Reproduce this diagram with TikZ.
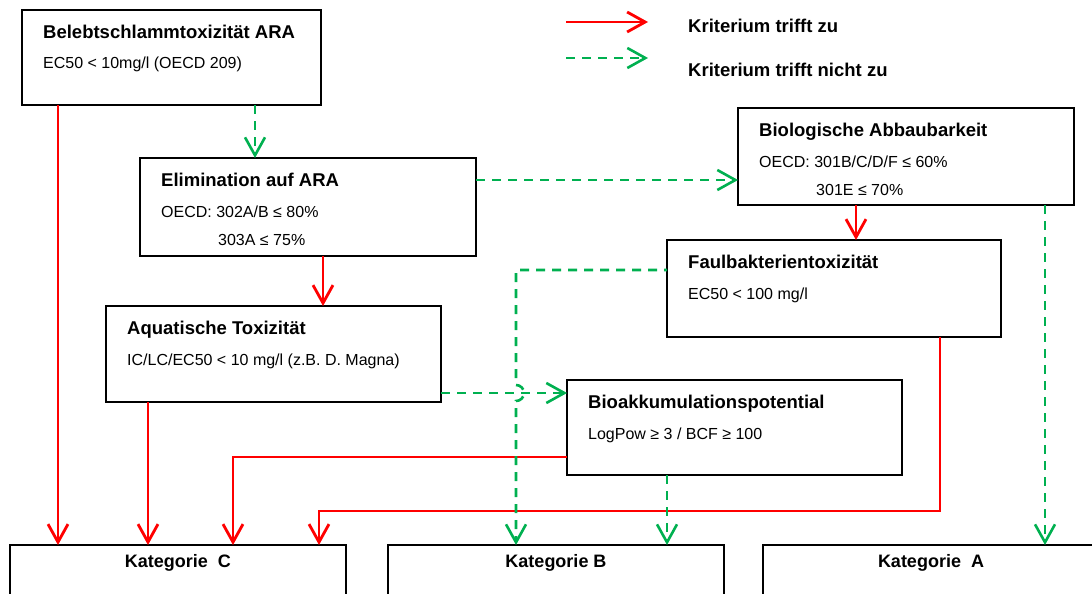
\documentclass[tikz,border=0pt]{standalone}
\usepackage{fontspec}
\setmainfont{Liberation Sans}
\usetikzlibrary{arrows.meta}
\definecolor{yesred}{RGB}{255,0,0}
\definecolor{nogreen}{RGB}{0,176,80}

\begin{document}
\begin{tikzpicture}[x=1pt,y=-1pt,
  box/.style={draw,line width=2pt,inner sep=0pt,outer sep=0pt,anchor=north west},
  title/.style={anchor=base west,inner sep=0pt,font=\fontsize{18.5}{20}\selectfont\bfseries},
  txt/.style={anchor=base west,inner sep=0pt,font=\fontsize{16}{18}\selectfont},
  cat/.style={anchor=base,inner sep=0pt,font=\fontsize{18}{20}\selectfont\bfseries},
  yes/.style={yesred,line width=2.8pt,-{Straight Barb[length=18pt,width=20pt]}},
  no/.style={nogreen,line width=2.6pt,dash pattern=on 9pt off 7pt,-{Straight Barb[length=18pt,width=20pt]}}]

\clip (0,0) rectangle (1092,594);

% legend
\coordinate (l1s) at (566,22);
\coordinate (l1e) at (648,22);
\coordinate (l2s) at (566,58);
\coordinate (l2e) at (648,58);
\draw [yes] (l1s) -- (l1e);
\draw [no] (l2s) -- (l2e);
\node [title] (leg1) at (688,33) {Kriterium trifft zu};
\node [title] (leg2) at (688,77) {Kriterium trifft nicht zu};

% criteria boxes
\node [box, minimum width=299pt, minimum height=95pt] (bel) at (22,10) {};
\node [title] (belT) at ([xshift=21pt,yshift=-28.5pt]bel.north west) {Belebtschlammtoxizität ARA};
\node [txt] (belA) at ([xshift=21pt,yshift=-59pt]bel.north west) {EC50 < 10mg/l (OECD 209)};

\node [box, minimum width=336pt, minimum height=98pt] (elim) at (140,158) {};
\node [title] (elimT) at ([xshift=21pt,yshift=-28.5pt]elim.north west) {Elimination auf ARA};
\node [txt] (elimA) at ([xshift=21pt,yshift=-59pt]elim.north west) {OECD: 302A/B ≤ 80\%};
\node [txt] (elimB) at ([xshift=78pt,yshift=-87pt]elim.north west) {303A ≤ 75\%};

\node [box, minimum width=336pt, minimum height=97pt] (bio) at (738,108) {};
\node [title] (bioT) at ([xshift=21pt,yshift=-28.5pt]bio.north west) {Biologische Abbaubarkeit};
\node [txt] (bioA) at ([xshift=21pt,yshift=-59pt]bio.north west) {OECD: 301B/C/D/F ≤ 60\%};
\node [txt] (bioB) at ([xshift=78pt,yshift=-87pt]bio.north west) {301E ≤ 70\%};

\node [box, minimum width=334pt, minimum height=97pt] (faul) at (667,240) {};
\node [title] (faulT) at ([xshift=21pt,yshift=-28.5pt]faul.north west) {Faulbakterientoxizität};
\node [txt] (faulA) at ([xshift=21pt,yshift=-59pt]faul.north west) {EC50 < 100 mg/l};

\node [box, minimum width=335pt, minimum height=96pt] (aqua) at (106,306) {};
\node [title] (aquaT) at ([xshift=21pt,yshift=-28.5pt]aqua.north west) {Aquatische Toxizität};
\node [txt] (aquaA) at ([xshift=21pt,yshift=-59pt]aqua.north west) {IC/LC/EC50 < 10 mg/l (z.B. D. Magna)};

\node [box, minimum width=335pt, minimum height=95pt] (bioakk) at (567,380) {};
\node [title] (bioakkT) at ([xshift=21pt,yshift=-28.5pt]bioakk.north west) {Bioakkumulationspotential};
\node [txt] (bioakkA) at ([xshift=21pt,yshift=-59pt]bioakk.north west) {LogPow ≥ 3 / BCF ≥ 100};

% categories
\node [box, minimum width=336pt, minimum height=100pt] (katC) at (10,545) {};
\node [cat] (katCT) at ([yshift=-22.7pt]katC.north) {Kategorie~~C};
\node [box, minimum width=336pt, minimum height=100pt] (katB) at (388,545) {};
\node [cat] (katBT) at ([yshift=-22.7pt]katB.north) {Kategorie B};
\node [box, minimum width=336pt, minimum height=100pt] (katA) at (763,545) {};
\node [cat] (katAT) at ([yshift=-22.7pt]katA.north) {Kategorie~~A};

% connector ends
\coordinate (e1) at ([yshift=-22pt]elim.north east);
\coordinate (g1) at ([xshift=233pt]bel.south west);
\coordinate (b1) at ([xshift=118pt]bio.south west);
\coordinate (b2) at ([xshift=307pt]bio.south west);
\coordinate (m1) at ([xshift=183pt]elim.south west);
\coordinate (f1) at ([yshift=-30pt]faul.north west);
\coordinate (r1) at ([xshift=273pt]faul.south west);
\coordinate (a1) at ([yshift=-87pt]aqua.north east);
\coordinate (a2) at ([xshift=42pt]aqua.south west);
\coordinate (p1) at ([yshift=-77pt]bioakk.north west);
\coordinate (p2) at ([xshift=100pt]bioakk.south west);
\coordinate (kC1) at ([xshift=48pt]katC.north west);
\coordinate (kC2) at ([xshift=138pt]katC.north west);
\coordinate (kC3) at ([xshift=223pt]katC.north west);
\coordinate (kC4) at ([xshift=309pt]katC.north west);
\coordinate (kB1) at ([xshift=128pt]katB.north west);

% criterion met
\draw [yes] (bel.south west -| kC1) -- (kC1);
\draw [yes] (b1) -- (b1 |- faul.north);
\draw [yes] (m1) -- (m1 |- aqua.north);
\draw [yes] (a2) -- (a2 |- kC2);
\draw [yes] (p1) -| (kC3);
\draw [yes] (r1) -- ++(0,174) -| (kC4);

% criterion not met
\draw [no] (g1) -- (g1 |- elim.north);
\draw [no] (e1) -- (e1 -| bio.west);
\draw [no] (b2) -- (b2 |- katA.north);
\draw [no] (a1) -- (a1 -| bioakk.west);
\draw [no, dash phase=6pt] (f1) -- (f1 -| kB1) -- ++(0,115) arc[start angle=90,end angle=-90,radius=8pt] -- (kB1);
\draw [no] (p2) -- (p2 |- katB.north);

\end{tikzpicture}
\end{document}
